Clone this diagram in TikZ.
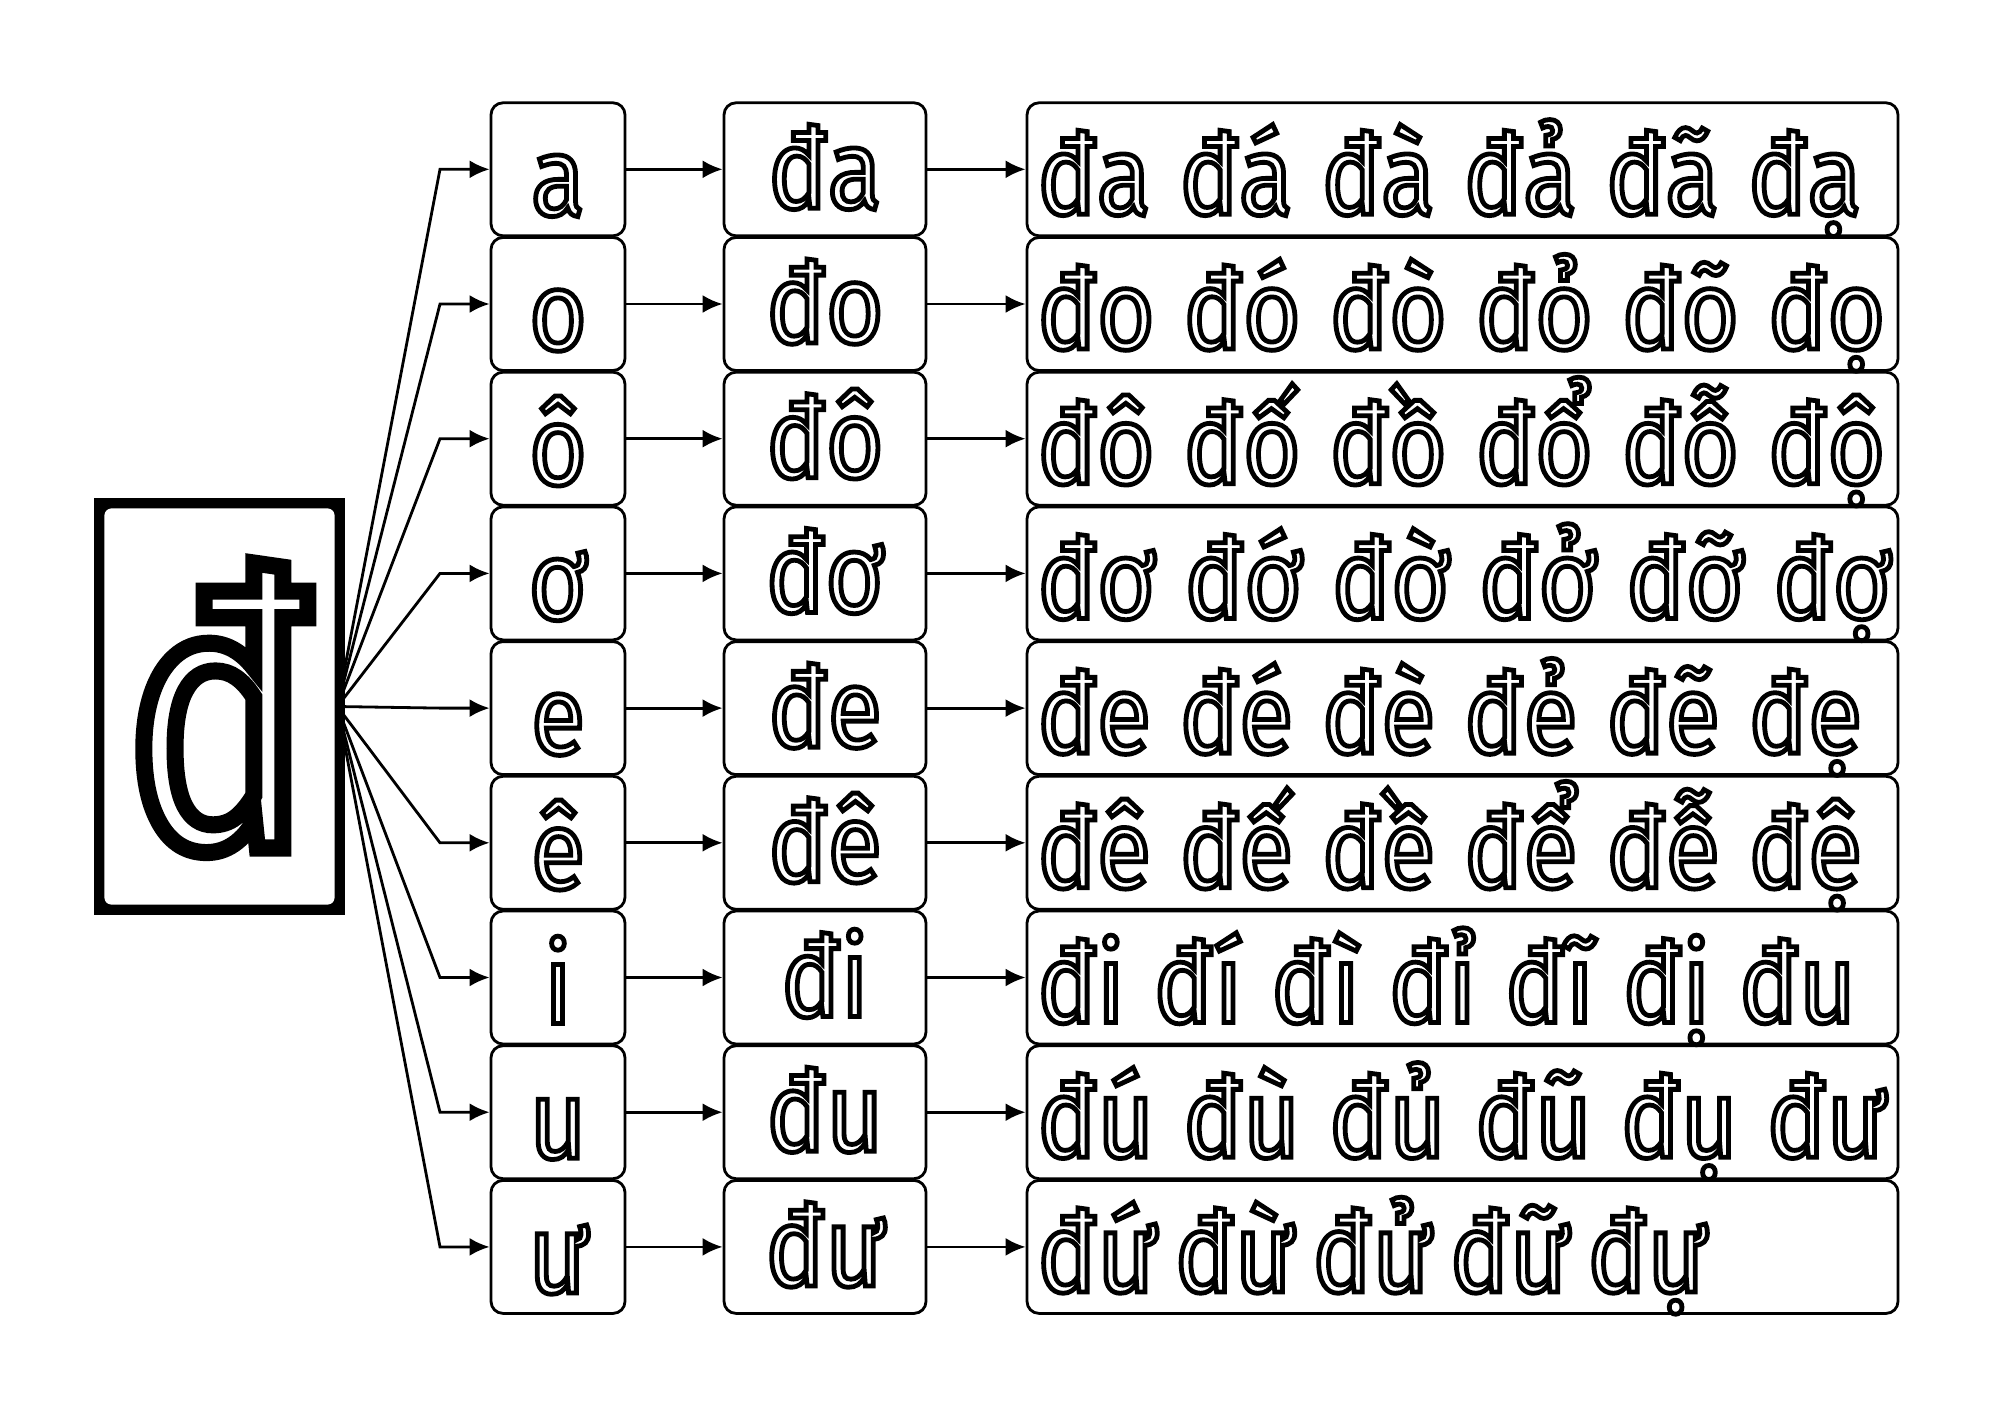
\documentclass[tikz,border=0pt]{standalone}
\usepackage{fontspec}
\setmainfont{Fira Sans}[FakeStretch=0.88]
\newfontfamily\bigfont{Fira Sans}[FakeStretch=0.83]
\usetikzlibrary{arrows.meta,backgrounds}
\newcommand{\hollow}[2]{\special{pdf:literal direct 1 Tr #1 w}#2\special{pdf:literal direct 0 Tr 1.4 w}}
\tikzset{
  box/.style={draw, rounded corners=6pt, inner sep=0pt, minimum height=66.5pt, text depth=0pt, font=\fontsize{56}{60}\selectfont},
  vowel/.style={box, minimum width=67pt, text height=46pt},
  syll/.style={box, minimum width=101pt, text height=39pt},
  words/.style={box, minimum width=435.5pt, text height=45pt},
  arr/.style={-{Latex[length=10pt,width=9pt]}}
}
\begin{document}
\begin{tikzpicture}[x=0.5pt, y=-0.5pt, line width=1.4pt]
\useasboundingbox (0,0) rectangle (2000,1414);
\node[box, fill=white, rounded corners=4pt, minimum width=116.5pt, minimum height=199.5pt, text height=141.5pt, font=\bigfont\fontsize{190}{200}\selectfont] (d) at (219.5,706.5) {\hollow{8.5}{đ}};
\begin{scope}[on background layer]
  \fill ([shift={(-8,-8)}]d.north west) rectangle ([shift={(8,8)}]d.south east);
\end{scope}
\coordinate (elb) at (440,0);
\foreach \v/\s/\w/\sk [count=\i] in {a/đa/{đa đá đà đả đã đạ}/14.5pt, o/đo/{đo đó đò đỏ đõ đọ}/14.5pt, ô/đô/{đô đố đồ đổ đỗ độ}/14.5pt, ơ/đơ/{đơ đớ đờ đở đỡ đợ}/14.5pt, e/đe/{đe đé đè đẻ đẽ đẹ}/14.5pt, ê/đê/{đê đế đề để đễ đệ}/14.5pt, i/đi/{đi đí đì đỉ đĩ đị đu}/14.5pt, u/đu/{đú đù đủ đũ đụ đư}/14.5pt, ư/đư/{đứ đừ đử đữ đự}/9.4pt}{
  \node[vowel] (v\i) at (558,{169.3+(\i-1)*134.7}) {\hollow{2.4}{\v}};
  \node[syll] (s\i) at (825,{169.3+(\i-1)*134.7}) {\hollow{2.4}{\s}};
  \node[words] (r\i) at (1462.5,{169.3+(\i-1)*134.7}) {\makebox[425pt][l]{\spaceskip=\sk\hollow{2.4}{\w}}};
  \draw[arr] (d.east) -- (elb |- v\i.west) -- (v\i.west);
  \draw[arr] (v\i) -- (s\i);
  \draw[arr] (s\i) -- (r\i);
}
\end{tikzpicture}
\end{document}
